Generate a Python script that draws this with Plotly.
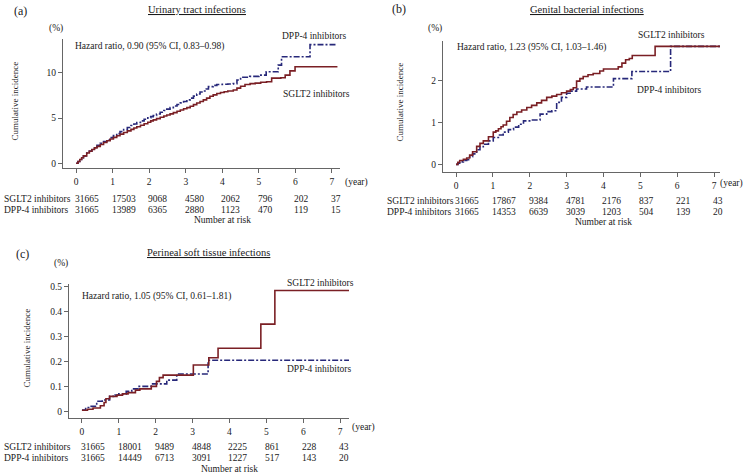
import plotly.graph_objects as go

W, H = 746, 476
FONT = "Liberation Serif"
RED = "#7a1f24"
BLUE = "#27287a"
AXC = "#666666"
TXT = "#1a1a1a"

# ---------------- data ----------------
years = [0, 1, 2, 3, 4, 5, 6, 7]

# (a) Urinary tract infections
a_sglt2_t = [0, 0.05, 0.1, 0.15, 0.2, 0.29, 0.36, 0.43, 0.5, 0.57, 0.66, 0.75, 0.84, 0.93, 1.02, 1.11, 1.2,
             1.3, 1.4, 1.5, 1.58, 1.66, 1.76, 1.86, 1.96, 2.04, 2.11, 2.2, 2.3, 2.4, 2.48, 2.57, 2.66, 2.76,
             2.85, 2.94, 3.03, 3.12, 3.21, 3.3, 3.39, 3.48, 3.57, 3.66, 3.75, 3.85, 3.95, 4.05, 4.15, 4.3,
             4.4, 4.5, 4.62, 4.76, 4.9, 5.05, 5.21, 5.35, 5.6, 5.72, 5.85, 5.99, 7.15]
a_sglt2_v = [0, 0.2, 0.42, 0.62, 0.82, 1.14, 1.33, 1.52, 1.7, 1.87, 2.08, 2.29, 2.49, 2.68, 2.86, 3.04, 3.22,
             3.4, 3.58, 3.75, 3.89, 4.03, 4.2, 4.37, 4.54, 4.68, 4.8, 4.93, 5.08, 5.22, 5.33, 5.46, 5.6, 5.75,
             5.88, 6.02, 6.15, 6.3, 6.48, 6.66, 6.82, 7.0, 7.2, 7.4, 7.55, 7.7, 7.82, 7.9, 7.98, 8.1,
             8.3, 8.5, 8.7, 8.8, 8.85, 8.95, 9.0, 9.4, 9.45, 9.74, 10.2, 10.66, 10.66]
a_dpp4_t = [0, 0.05, 0.1, 0.15, 0.2, 0.29, 0.36, 0.43, 0.5, 0.57, 0.66, 0.75, 0.84, 0.93, 1.02, 1.11, 1.2,
            1.3, 1.4, 1.5, 1.58, 1.66, 1.76, 1.86, 1.96, 2.04, 2.11, 2.2, 2.3, 2.4, 2.48, 2.57, 2.66, 2.76,
            2.85, 2.94, 3.03, 3.12, 3.21, 3.3, 3.39, 3.48, 3.56, 3.62, 3.75, 3.85, 4.0, 4.15, 4.3, 4.4, 4.5,
            4.75, 5.0, 5.2, 5.53, 5.62, 6.4, 7.15]
a_dpp4_v = [0, 0.2, 0.42, 0.62, 0.82, 1.14, 1.35, 1.58, 1.78, 1.98, 2.2, 2.4, 2.6, 2.84, 3.06, 3.28, 3.5,
            3.73, 3.95, 4.17, 4.34, 4.5, 4.68, 4.86, 5.02, 5.15, 5.27, 5.45, 5.64, 5.83, 5.98, 6.15, 6.32, 6.5,
            6.67, 6.83, 7.0, 7.2, 7.42, 7.65, 7.88, 7.99, 8.2, 8.46, 8.6, 8.7, 8.72, 8.75, 8.8, 9.2, 9.5,
            9.6, 9.74, 10.1, 10.84, 11.76, 13.1, 13.1]
a_risk_sglt2 = [31665, 17503, 9068, 4580, 2062, 796, 202, 37]
a_risk_dpp4 = [31665, 13989, 6365, 2880, 1123, 470, 119, 15]

# (b) Genital bacterial infections
b_sglt2_t = [0, 0.05, 0.1, 0.2, 0.29, 0.37, 0.45, 0.56, 0.65, 0.74, 0.88, 1.01, 1.08, 1.15, 1.22, 1.28,
             1.37, 1.46, 1.55, 1.65, 1.78, 1.92, 2.05, 2.19, 2.32, 2.46, 2.6, 2.73, 2.86, 3.0, 3.1, 3.18,
             3.27, 3.36, 3.45, 3.58, 3.72, 3.9, 4.0, 4.4, 4.5, 4.6, 4.7, 4.78, 5.4, 7.16]
b_sglt2_v = [0, 0.05, 0.09, 0.12, 0.15, 0.22, 0.3, 0.43, 0.5, 0.56, 0.66, 0.77, 0.8, 0.85, 0.9, 0.94,
             1.03, 1.12, 1.19, 1.25, 1.3, 1.36, 1.41, 1.47, 1.53, 1.6, 1.63, 1.67, 1.71, 1.75, 1.79, 1.83,
             1.99, 2.05, 2.1, 2.14, 2.17, 2.23, 2.28, 2.33, 2.42, 2.5, 2.53, 2.6, 2.82, 2.82]
b_dpp4_t = [0, 0.05, 0.1, 0.2, 0.29, 0.37, 0.45, 0.56, 0.65, 0.74, 0.88, 1.01, 1.15, 1.28, 1.42, 1.56,
            1.7, 1.83, 2.05, 2.28, 2.46, 2.6, 2.73, 2.86, 3.0, 3.14, 3.27, 3.54, 4.27, 4.77, 5.82, 7.16]
b_dpp4_v = [0, 0.03, 0.06, 0.09, 0.11, 0.18, 0.25, 0.35, 0.42, 0.48, 0.56, 0.64, 0.7, 0.77, 0.83, 0.89,
            0.96, 1.04, 1.06, 1.2, 1.26, 1.28, 1.48, 1.6, 1.7, 1.75, 1.8, 1.85, 2.05, 2.22, 2.82, 2.82]
b_risk_sglt2 = [31665, 17867, 9384, 4781, 2176, 837, 221, 43]
b_risk_dpp4 = [31665, 14353, 6639, 3039, 1203, 504, 139, 20]

# (c) Perineal soft tissue infections
c_sglt2_t = [0, 0.15, 0.3, 0.5, 0.6, 0.65, 0.75, 0.95, 1.1, 1.25, 1.45, 1.57, 1.88, 2.02, 2.1, 2.2,
             3.02, 3.44, 3.69, 4.85, 5.23, 7.24]
c_sglt2_v = [0.004, 0.008, 0.013, 0.022, 0.035, 0.05, 0.06, 0.065, 0.07, 0.075, 0.085, 0.09, 0.1, 0.12,
             0.135, 0.145, 0.186, 0.215, 0.253, 0.35, 0.485, 0.485]
c_dpp4_t = [0, 0.1, 0.25, 0.4, 0.55, 0.75, 0.9, 1.0, 1.2, 1.35, 1.55, 1.88, 2.3, 2.57, 3.42, 7.24]
c_dpp4_v = [0.005, 0.015, 0.02, 0.04, 0.045, 0.06, 0.065, 0.07, 0.08, 0.09, 0.1, 0.11, 0.125, 0.15,
            0.205, 0.205]
c_risk_sglt2 = [31665, 18001, 9489, 4848, 2225, 861, 228, 43]
c_risk_dpp4 = [31665, 14449, 6713, 3091, 1227, 517, 143, 20]

a_yticks = [0, 5, 10]
b_yticks = [0, 1, 2]
c_yticks = [0, 0.1, 0.2, 0.3, 0.4, 0.5]
c_yticktext = ["0", "0.1", "0.2", "0.3", "0.4", "0.5"]

# ---------------- layout geometry (pixels) ----------------
panels = {
    "a": dict(xl=63, xr=340, yt=37, yb=167, xrange=[-0.36, 7.22], yrange=[-0.55, 13.74]),
    "b": dict(xl=443, xr=720, yt=39, yb=171, xrange=[-0.353, 7.16], yrange=[-0.19, 2.952]),
    "c": dict(xl=69, xr=349, yt=283, yb=418, xrange=[-0.351, 7.24], yrange=[-0.028, 0.512]),
}


def px(x):
    return x / W


def py(y):
    return 1 - y / H


fig = go.Figure()

series = [
    ("a", "", a_dpp4_t, a_dpp4_v, a_sglt2_t, a_sglt2_v),
    ("b", "2", b_dpp4_t, b_dpp4_v, b_sglt2_t, b_sglt2_v),
    ("c", "3", c_dpp4_t, c_dpp4_v, c_sglt2_t, c_sglt2_v),
]
for key, sfx, dt, dv, st, sv in series:
    fig.add_trace(go.Scatter(x=dt, y=dv, mode="lines", line=dict(color=BLUE, width=1.6, shape="hv",
                                                                   dash="6px,2px,2px,2px"),
                             xaxis="x" + sfx, yaxis="y" + sfx, showlegend=False, hoverinfo="skip"))
    fig.add_trace(go.Scatter(x=st, y=sv, mode="lines", line=dict(color=RED, width=1.6, shape="hv"),
                             xaxis="x" + sfx, yaxis="y" + sfx, showlegend=False, hoverinfo="skip"))

layout = dict(width=W, height=H, margin=dict(l=0, r=0, t=0, b=0), paper_bgcolor="white",
              plot_bgcolor="white", font=dict(family=FONT, size=9.5, color=TXT), showlegend=False)

yt = {"a": (a_yticks, [str(v) for v in a_yticks]),
      "b": (b_yticks, [str(v) for v in b_yticks]),
      "c": (c_yticks, c_yticktext)}
for key, sfx in [("a", ""), ("b", "2"), ("c", "3")]:
    p = panels[key]
    layout["xaxis" + sfx] = dict(domain=[px(p["xl"]), px(p["xr"])], range=p["xrange"], anchor="y" + sfx,
                                 showline=True, linecolor=AXC, linewidth=1, ticks="outside", ticklen=4,
                                 tickcolor=AXC, showgrid=False, zeroline=False, tickvals=years,
                                 ticktext=[str(v) for v in years], tickfont=dict(size=9.5, family=FONT))
    layout["yaxis" + sfx] = dict(domain=[py(p["yb"]), py(p["yt"])], range=p["yrange"], anchor="x" + sfx,
                                 showline=True, linecolor=AXC, linewidth=1, ticks="outside", ticklen=4,
                                 tickcolor=AXC, showgrid=False, zeroline=False, tickvals=yt[key][0],
                                 ticktext=yt[key][1], tickfont=dict(size=9.5, family=FONT))
fig.update_layout(**layout)

ann = []


def text(x, y, s, size=9.5, xanchor="left", yanchor="middle", angle=0):
    ann.append(dict(x=px(x), y=py(y), xref="paper", yref="paper", text=s, showarrow=False,
                    xanchor=xanchor, yanchor=yanchor, textangle=angle,
                    font=dict(family=FONT, size=size, color=TXT)))


# panel labels and titles
text(12, 9, "(a)", size=12)
text(197, 8, "<u>Urinary tract infections</u>", size=10.5, xanchor="center")
text(390, 7, "(b)", size=12)
text(587, 8, "<u>Genital bacterial infections</u>", size=10.5, xanchor="center")
text(14, 253, "(c)", size=12)
text(208, 252, "<u>Perineal soft tissue infections</u>", size=10.5, xanchor="center")

# (%) units
text(47, 27, "(%)")
text(426, 27, "(%)")
text(52, 263, "(%)")

# y titles
text(15, 100, "Cumulative incidence", size=9, xanchor="center", angle=-90)
text(400, 101, "Cumulative incidence", size=9, xanchor="center", angle=-90)
text(27, 348, "Cumulative incidence", size=9, xanchor="center", angle=-90)

# hazard ratios
text(73, 45, "Hazard ratio, 0.90 (95% CI, 0.83–0.98)")
text(455, 46, "Hazard ratio, 1.23 (95% CI, 1.03–1.46)")
text(80, 296, "Hazard ratio, 1.05 (95% CI, 0.61–1.81)")

# curve labels
text(280, 34, "DPP-4 inhibitors")
text(281, 92, "SGLT2 inhibitors")
text(636, 33, "SGLT2 inhibitors")
text(635, 88, "DPP-4 inhibitors")
text(285, 282, "SGLT2 inhibitors")
text(285, 369, "DPP-4 inhibitors")

# (year)
text(343, 181, "(year)")
text(745, 182, "(year)", xanchor="right")
text(350, 427, "(year)")

fig.update_layout(annotations=ann)

# number at risk tables
tables = [
    ("", 2, 198, 209, 219, a_risk_sglt2, a_risk_dpp4),
    ("2", 385, 200, 211, 221, b_risk_sglt2, b_risk_dpp4),
    ("3", 2, 447, 458, 469, c_risk_sglt2, c_risk_dpp4),
]
for sfx, lx, y1, y2, y3, r1, r2 in tables:
    fig.add_annotation(x=px(lx), y=py(y1), xref="paper", yref="paper", text="SGLT2 inhibitors",
                       showarrow=False, xanchor="left", yanchor="middle")
    fig.add_annotation(x=px(lx), y=py(y2), xref="paper", yref="paper", text="DPP-4 inhibitors",
                       showarrow=False, xanchor="left", yanchor="middle")
    for t, n1, n2 in zip(years, r1, r2):
        fig.add_annotation(x=t, y=py(y1), xref="x" + sfx, yref="paper", text=str(n1), showarrow=False,
                           xanchor="left", yanchor="middle", xshift=-3)
        fig.add_annotation(x=t, y=py(y2), xref="x" + sfx, yref="paper", text=str(n2), showarrow=False,
                           xanchor="left", yanchor="middle", xshift=-3)
    fig.add_annotation(x=4, y=py(y3), xref="x" + sfx, yref="paper", text="Number at risk", showarrow=False,
                       xanchor="center", yanchor="middle")

fig.write_html("out.html", config={"displayModeBar": False, "staticPlot": True},
               post_script="document.body.style.margin='0px';document.body.style.padding='0px';"
                           "document.body.style.overflow='hidden';")
